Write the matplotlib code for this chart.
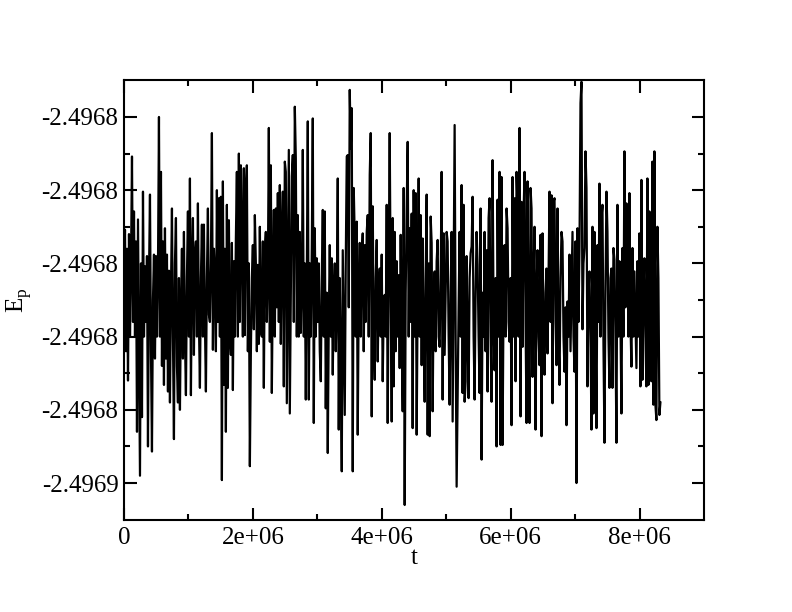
import matplotlib
matplotlib.use("Agg")
import matplotlib.pyplot as plt
import numpy as np

# E_p, as deviation from -2.4968 in units of 1e-6,
# one value per saved time step (split in pieces only to keep lines short)
ep_dev_a = [-22, -15.4, -32, -18, -36, -16, -30, -20, -5.4, -28,
            -12.9, -30, -17, -43, -14, -31, -49, -20, -41, -10.2,
            -30, -20.4, -28, -19, -45, -22, -10.6, -32, -45.7, -25,
            -18.8, -33, -19, -30, -21, 0, -30, -7.5, -34, -17,
            -36.6, -15.2, -33, -18.8, -37.5, -21, -39, -24, -12.5, -30,
            -44, -20, -13.8, -34, -39, -22, -40, -26, -18, -33,
            -15.7, -30, -38, -22, -12.9, -30, -8.4, -38, -20, -13.8,
            -32.5, -19, -17, -30, -11.8, -28, -37, -22, -14.7, -30,
            -14.7, -28, -37.5, -22, -12.5, -27, -28, -20, -2.2, -31.8,
            -18, -21.6]
ep_dev_b = [-32, -10, -28, -11.1, -30, -10.9, -49.6, -8.8, -36.6, -18,
            -43, -12, -37, -14.1, -30, -32.5, -17.2, -37.3, -19.7, -30,
            -16.6, -7.5, -30, -5, -28, -6.6, -16.1, -30, -7, -29.8,
            -10, -6.6, -32, -20, -47.7, -32.3, -22, -17.5, -29, -13.4,
            -20, -32, -20.2, -31, -15, -29.3, -30, -17, -37, -18.2,
            -15.7, -28, -22, -1.5, -30.7, -6.6, -37.7, -22, -12.7, -30,
            -12.5, -26, -10.4, -28, -9.3, -31, -17, -10.2, -36.8, -6.1,
            -7.5, -39.1, -22, -4.5, -40.5, -24, -8.1, -5.2, -28, 1.4,
            -5.6, -30, -13.4, -30, -15.7, -29.5]
ep_dev_c = [-24, -4.5, -30, -20, -38.6, -22, -0.6, -38.6, -20, -30,
            -18, -0.2, -41.8, -15.2, -30, -19.3, -28, -20, -32, -36.1,
            -22, -12.7, -30, -12.9, -39.8, -24, -45.9, -28, -17.5, -30,
            -19.3, -35.2, -24, -20, -32, -24.8, -8.4, -42.7, -22, -34,
            -48.4, -18.2, -30, -40.7, -20, -5.4, -5.2, -26, 3.7, -4.3,
            1.2, -48.4, -9.7, -16.6, -30, -14.3, -43.4, -24, -17.2, -30,
            -19.3, -15.9, -32, -17.5, -28, -15.7, -13.4, -30, -7.9, -2.2,
            -40.9, -12.2, -30, -35.9, -22, -16.8, -33.4, -24, -20.7, -30,
            -18.8, -36.1, -26, -24.3, -30, -12, -41.8, -20, -2.2]
ep_dev_d = [-24, -41.6, -13.8, -36.8, -15.7, -32, -19.7, -30, -21.6, -34.3,
            -16.1, -30, -40.2, -9.7, -53, -24, -12.5, -3.4, -30, -15.2,
            -28, -13.2, -42.5, -10, -30, -10.4, -43.4, -24, -8.4, -30,
            -13.4, -33.9, -16.6, -30, -38.9, -22, -10.6, -43.4, -20, -43.6,
            -13.6, -17.2, -40.2, -24, -21.1, -32, -19.7, -16.8, -30, -31.4,
            -22, -7.5, -38.6, -15.9, -32.5, -24, -15.7, -17, -30, -39.3,
            -24, -15.7, -41.6, -22, -1.1, -30, -50.5, -37.9, -26, -15.7,
            -30, -9.3, -37.7, -12, -38.9, -36.1, -19, -30, -38.4, -22,
            -18.6, -17.7, -10.9, -30, -38.6, -24, -15.7, -20.2, -30, -37.7]
ep_dev_e = [-12.5, -46.8, -24, -30, -15.7, -32, -18.2, -37.5, -13.8, -11.1,
            -30, -38.9, -5.9, -28, -34.6, -22, -45, -11.3, -30, -7.5,
            -44.8, -8.2, -44.8, -24, -17.5, -30, -12.5, -15.2, -28, -30.7,
            -22, -42.1, -8.2, -30, -11.1, -36.1, -7.5, -12.5, -30, -1.5,
            -40.9, -11.6, -31.4, -13.2, -7.5, -28, -41.8, -8.8, -30, -41.8,
            -9.7, -12.5, -35.5, -22, -15, -42.7, -24, -18.2, -30, -33.9,
            -16.1, -43.6, -15.9, -30, -35.2, -24, -20.7, -32.3, -22, -10.2,
            -28, -10.7, -39.1, -11.6, -11.1, -28, -33.9, -12.5, -30, -36.6,
            -22, -15.7, -17, -30, -34.8, -26, -42.1, -25.2, -30, -18.8]
ep_dev_f = [-32, -24, -15.7, -30, -34.8, -17, -50, -15.2, -28, -17.7,
            1.9, 4.8, -29, -20, -17.9, -4.7, -9.7, -36.8, -24, -21.1,
            -30, -42.7, -15, -40.5, -15.7, -28, -42.5, -17.5, -28, -9.1,
            -30, -13.8, -12, -31.1, -44.5, -24, -10.2, -15.7, -30, -37,
            -22, -20.7, -37, -17.9, -19.5, -30, -44.5, -12, -30, -19.7,
            -28, -40.5, -17.9, -30, -4.7, -26, -11.8, -13.2, -30, -10.4,
            -28, -34.1, -17.9, -30, -21.1, -28, -34.3, -19.7, -30, -15.9,
            -36.8, -8.6, -35.9, -24, -19.3, -30, -36.8, -8.4, -36.6, -12.9,
            -26, -36.1, -6.1, -39.3, -4.7, -39.3, -41.4, -15, -22, -40.7,
            -39]

ep_base = -2.4968
dt = 15500.0  # time between saved steps

ytick_vals = [-2.49685, -2.49684, -2.49683, -2.49682, -2.49681, -2.49680]
ytick_labels = ['-2.4969', '-2.4968', '-2.4968', '-2.4968', '-2.4968', '-2.4968']
yminor_vals = [-2.496845, -2.496835, -2.496825, -2.496815, -2.496805]
xtick_vals = [0, 2e6, 4e6, 6e6, 8e6]
xtick_labels = ['0', '2e+06', '4e+06', '6e+06', '8e+06']
xminor_vals = [1e6, 3e6, 5e6, 7e6]

ep_dev = np.array(ep_dev_a + ep_dev_b + ep_dev_c + ep_dev_d + ep_dev_e + ep_dev_f)
ep = ep_base + ep_dev * 1e-6
t = np.arange(len(ep)) * dt

plt.rcParams['font.family'] = ['Liberation Serif', 'DejaVu Serif']
plt.rcParams['mathtext.fontset'] = 'custom'
plt.rcParams['mathtext.rm'] = 'Liberation Serif'

fig = plt.figure(figsize=(7.92, 6.12), dpi=100)
ax = fig.add_axes([124/792, 92/612, 580/792, 440/612])

ax.plot(t, ep, color='black', lw=1.6)

ax.set_xlim(0, 9e6)
ax.set_ylim(ep_base - 55.05e-6, ep_base + 5.05e-6)
ax.set_xticks(xtick_vals, xtick_labels)
ax.set_xticks(xminor_vals, minor=True)
ax.set_yticks(ytick_vals, ytick_labels)
ax.set_yticks(yminor_vals, minor=True)

ax.tick_params(which='both', direction='in', top=True, right=True, width=1.5, labelsize=18)
ax.tick_params(which='major', length=9)
ax.tick_params(which='minor', length=4.5)
ax.tick_params(axis='x', pad=5)
ax.tick_params(axis='y', pad=4)
for s in ax.spines.values():
    s.set_linewidth(1.5)

ax.set_xlabel('t', fontsize=18)
ax.xaxis.set_label_coords(0.5, -0.062)
ax.set_ylabel(r'E$_\mathrm{p}$', fontsize=18)
ax.yaxis.set_label_coords(-0.155, 0.5)

fig.savefig('out.png', dpi=100)
